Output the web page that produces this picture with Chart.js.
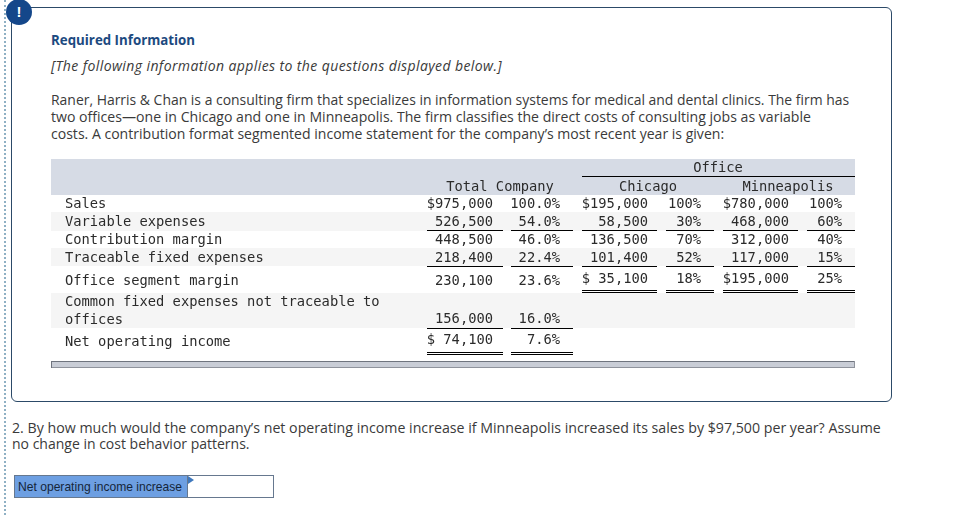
<!DOCTYPE html>
<html>
<head>
<meta charset="utf-8">
<script src="https://cdn.jsdelivr.net/npm/chart.js@4"></script>
<style>
  html, body { margin: 0; padding: 0; background: #fff; }
  body { position: relative; width: 979px; height: 515px; overflow: hidden; font-family: "Open Sans", sans-serif; color: #3a3a3a; }
  .t { position: absolute; white-space: nowrap; font-size: 14px; line-height: 17px; }
  #dots { position: absolute; left: 4px; top: 0; height: 515px; border-left: 2px dotted #8fb0c4; }
  #frame { position: absolute; left: 11px; top: 7px; width: 879px; height: 393px; border: 1.5px solid #2c4a68; border-radius: 6px; }
  #badge { position: absolute; left: 6px; top: -1px; width: 26px; height: 26px; border-radius: 50%; background: #14478a; color: #fff; font: bold 15px/25px "Liberation Sans", sans-serif; text-align: center; }
  #table { position: absolute; left: 51px; top: 159px; }
  #answer { position: absolute; left: 14px; top: 475px; width: 258px; height: 21px; border: 1.5px solid #66788f; background: #fff; }
  #answerLabel { position: absolute; left: 0; top: 0; width: 169px; height: 21px; padding-left: 3px; background: #6d9fe2; border-right: 1.5px solid #66788f; font: 12.1px/22px "Liberation Sans", sans-serif; color: #15263a; }
  #flag { position: absolute; left: 173px; top: 0; border-left: 6px solid #3f78bd; border-top: 4px solid transparent; border-bottom: 4px solid transparent; }
</style>
</head>
<body>
<div id="dots"></div>
<div id="frame"></div>
<div id="badge">!</div>
<div class="t" style="left:51px;top:32px;font-size:13.3px;font-weight:bold;color:#1c4a80">Required Information</div>
<div class="t" style="left:51px;top:57px;font-style:italic;letter-spacing:0.4px">[The following information applies to the questions displayed below.]</div>
<div class="t" style="left:51px;top:91px;font-size:13.95px">Raner, Harris &amp; Chan is a consulting firm that specializes in information systems for medical and dental clinics. The firm has</div>
<div class="t" style="left:51px;top:108px;font-size:14.1px">two offices—one in Chicago and one in Minneapolis. The firm classifies the direct costs of consulting jobs as variable</div>
<div class="t" style="left:51px;top:125px;font-size:14.05px">costs. A contribution format segmented income statement for the company’s most recent year is given:</div>
<canvas id="table" width="804" height="209"></canvas>
<div class="t" style="left:12px;top:419px;font-size:14.2px">2. By how much would the company’s net operating income increase if Minneapolis increased its sales by $97,500 per year? Assume</div>
<div class="t" style="left:12px;top:435px">no change in cost behavior patterns.</div>
<div id="answer"><div id="answerLabel">Net operating income increase</div><div id="flag"></div></div>

<script>
const rowLabels = ['Sales', 'Variable expenses', 'Contribution margin', 'Traceable fixed expenses', 'Office segment margin', 'Common fixed expenses not traceable to', 'offices', 'Net operating income'];
const totalAmounts = ['$975,000', '526,500', '448,500', '218,400', '230,100', '', '156,000', '$ 74,100'];
const totalPercents = ['100.0%', '54.0%', '46.0%', '22.4%', '23.6%', '', '16.0%', '7.6%'];
const chicagoAmounts = ['$195,000', '58,500', '136,500', '101,400', '$ 35,100', '', '', ''];
const chicagoPercents = ['100%', '30%', '70%', '52%', '18%', '', '', ''];
const minneapolisAmounts = ['$780,000', '468,000', '312,000', '117,000', '$195,000', '', '', ''];
const minneapolisPercents = ['100%', '60%', '40%', '15%', '25%', '', '', ''];

// layout, in page pixels (the axes below run 1:1 with the page)
const labelY = [204, 222, 240, 258, 281, 302, 320, 342];
const totalY = [204, 222, 240, 258, 281, 302, 319.5, 340];
const officeY = [204, 222, 240, 258, 279, 302, 320, 342];
const columns = [
  {values: totalAmounts, right: 493, ys: totalY},
  {values: totalPercents, right: 560, ys: totalY},
  {values: chicagoAmounts, right: 648, ys: officeY},
  {values: chicagoPercents, right: 701, ys: officeY},
  {values: minneapolisAmounts, right: 789, ys: officeY},
  {values: minneapolisPercents, right: 842, ys: officeY},
];
const headers = [['Office', 718, 168], ['Total Company', 500, 187], ['Chicago', 648, 187], ['Minneapolis', 788, 187]];

const bands = [
  [159, 195, '#d6dbe5'], [212, 231, '#f5f5f5'], [248, 266, '#f5f5f5'], [293, 328, '#f5f5f5'], [361, 368, '#c9cdd6'],
];
const totalCols = [[427, 503], [511, 573]];
const officeCols = [[582, 657], [666, 714], [723, 798], [807, 855]];
const allCols = totalCols.concat(officeCols);

function rule(x1, x2, y1, y2, color, width) {
  return {
    data: [{x: x1, y: y1}, {x: x2, y: y2}],
    showLine: true, pointRadius: 0,
    borderColor: color, borderWidth: width,
  };
}

let datasets = bands.map(function(b) {
  let mid = (b[0] + b[1]) / 2;
  return rule(51, 855, mid, mid, b[2], b[1] - b[0]);
});
// scrollbar outline
datasets.push(rule(51, 855, 361.5, 361.5, '#6f747e', 1));
datasets.push(rule(51, 855, 367.5, 367.5, '#8f939c', 1));
datasets.push(rule(51.5, 51.5, 361, 368, '#6f747e', 1));
datasets.push(rule(854.5, 854.5, 361, 368, '#8f939c', 1));

datasets.push(rule(582, 855, 176.5, 176.5, '#000', 1));
allCols.forEach(function(c) {
  datasets.push(rule(c[0], c[1], 230.5, 230.5, '#000', 1));
  datasets.push(rule(c[0], c[1], 266.5, 266.5, '#000', 1));
});
totalCols.forEach(function(c) {
  datasets.push(rule(c[0], c[1], 328.5, 328.5, '#000', 1));
  datasets.push(rule(c[0], c[1], 352.5, 352.5, '#000', 1));
  datasets.push(rule(c[0], c[1], 354.5, 354.5, '#000', 1));
});
officeCols.forEach(function(c) {
  datasets.push(rule(c[0], c[1], 290.5, 290.5, '#000', 1));
  datasets.push(rule(c[0], c[1], 292.5, 292.5, '#000', 1));
});
// chart.js paints the first dataset last, bands have to end up underneath
datasets.reverse();

const cellText = {
  id: 'cellText',
  afterDatasetsDraw(chart) {
    let ctx = chart.ctx;
    let x = chart.scales.x, y = chart.scales.y;
    ctx.save();
    ctx.font = '13.75px "DejaVu Sans Mono", monospace';
    ctx.fillStyle = '#2b2b2b';
    ctx.textBaseline = 'middle';

    ctx.textAlign = 'left';
    rowLabels.forEach(function(label, i) {
      ctx.fillText(label, x.getPixelForValue(65), y.getPixelForValue(labelY[i]));
    });

    ctx.textAlign = 'right';
    columns.forEach(function(col) {
      col.values.forEach(function(v, i) {
        if (v) ctx.fillText(v, x.getPixelForValue(col.right), y.getPixelForValue(col.ys[i]));
      });
    });

    ctx.textAlign = 'center';
    headers.forEach(function(h) {
      ctx.fillText(h[0], x.getPixelForValue(h[1]), y.getPixelForValue(h[2]));
    });
    ctx.restore();
  }
};

new Chart(document.getElementById('table').getContext('2d'), {
  type: 'scatter',
  data: {datasets: datasets},
  options: {
    responsive: false,
    animation: false,
    layout: {padding: 0},
    plugins: {legend: {display: false}, tooltip: {enabled: false}},
    scales: {
      x: {type: 'linear', min: 51, max: 855, display: false},
      y: {type: 'linear', min: 159, max: 368, reverse: true, display: false},
    },
  },
  plugins: [cellText],
});
</script>
</body>
</html>
